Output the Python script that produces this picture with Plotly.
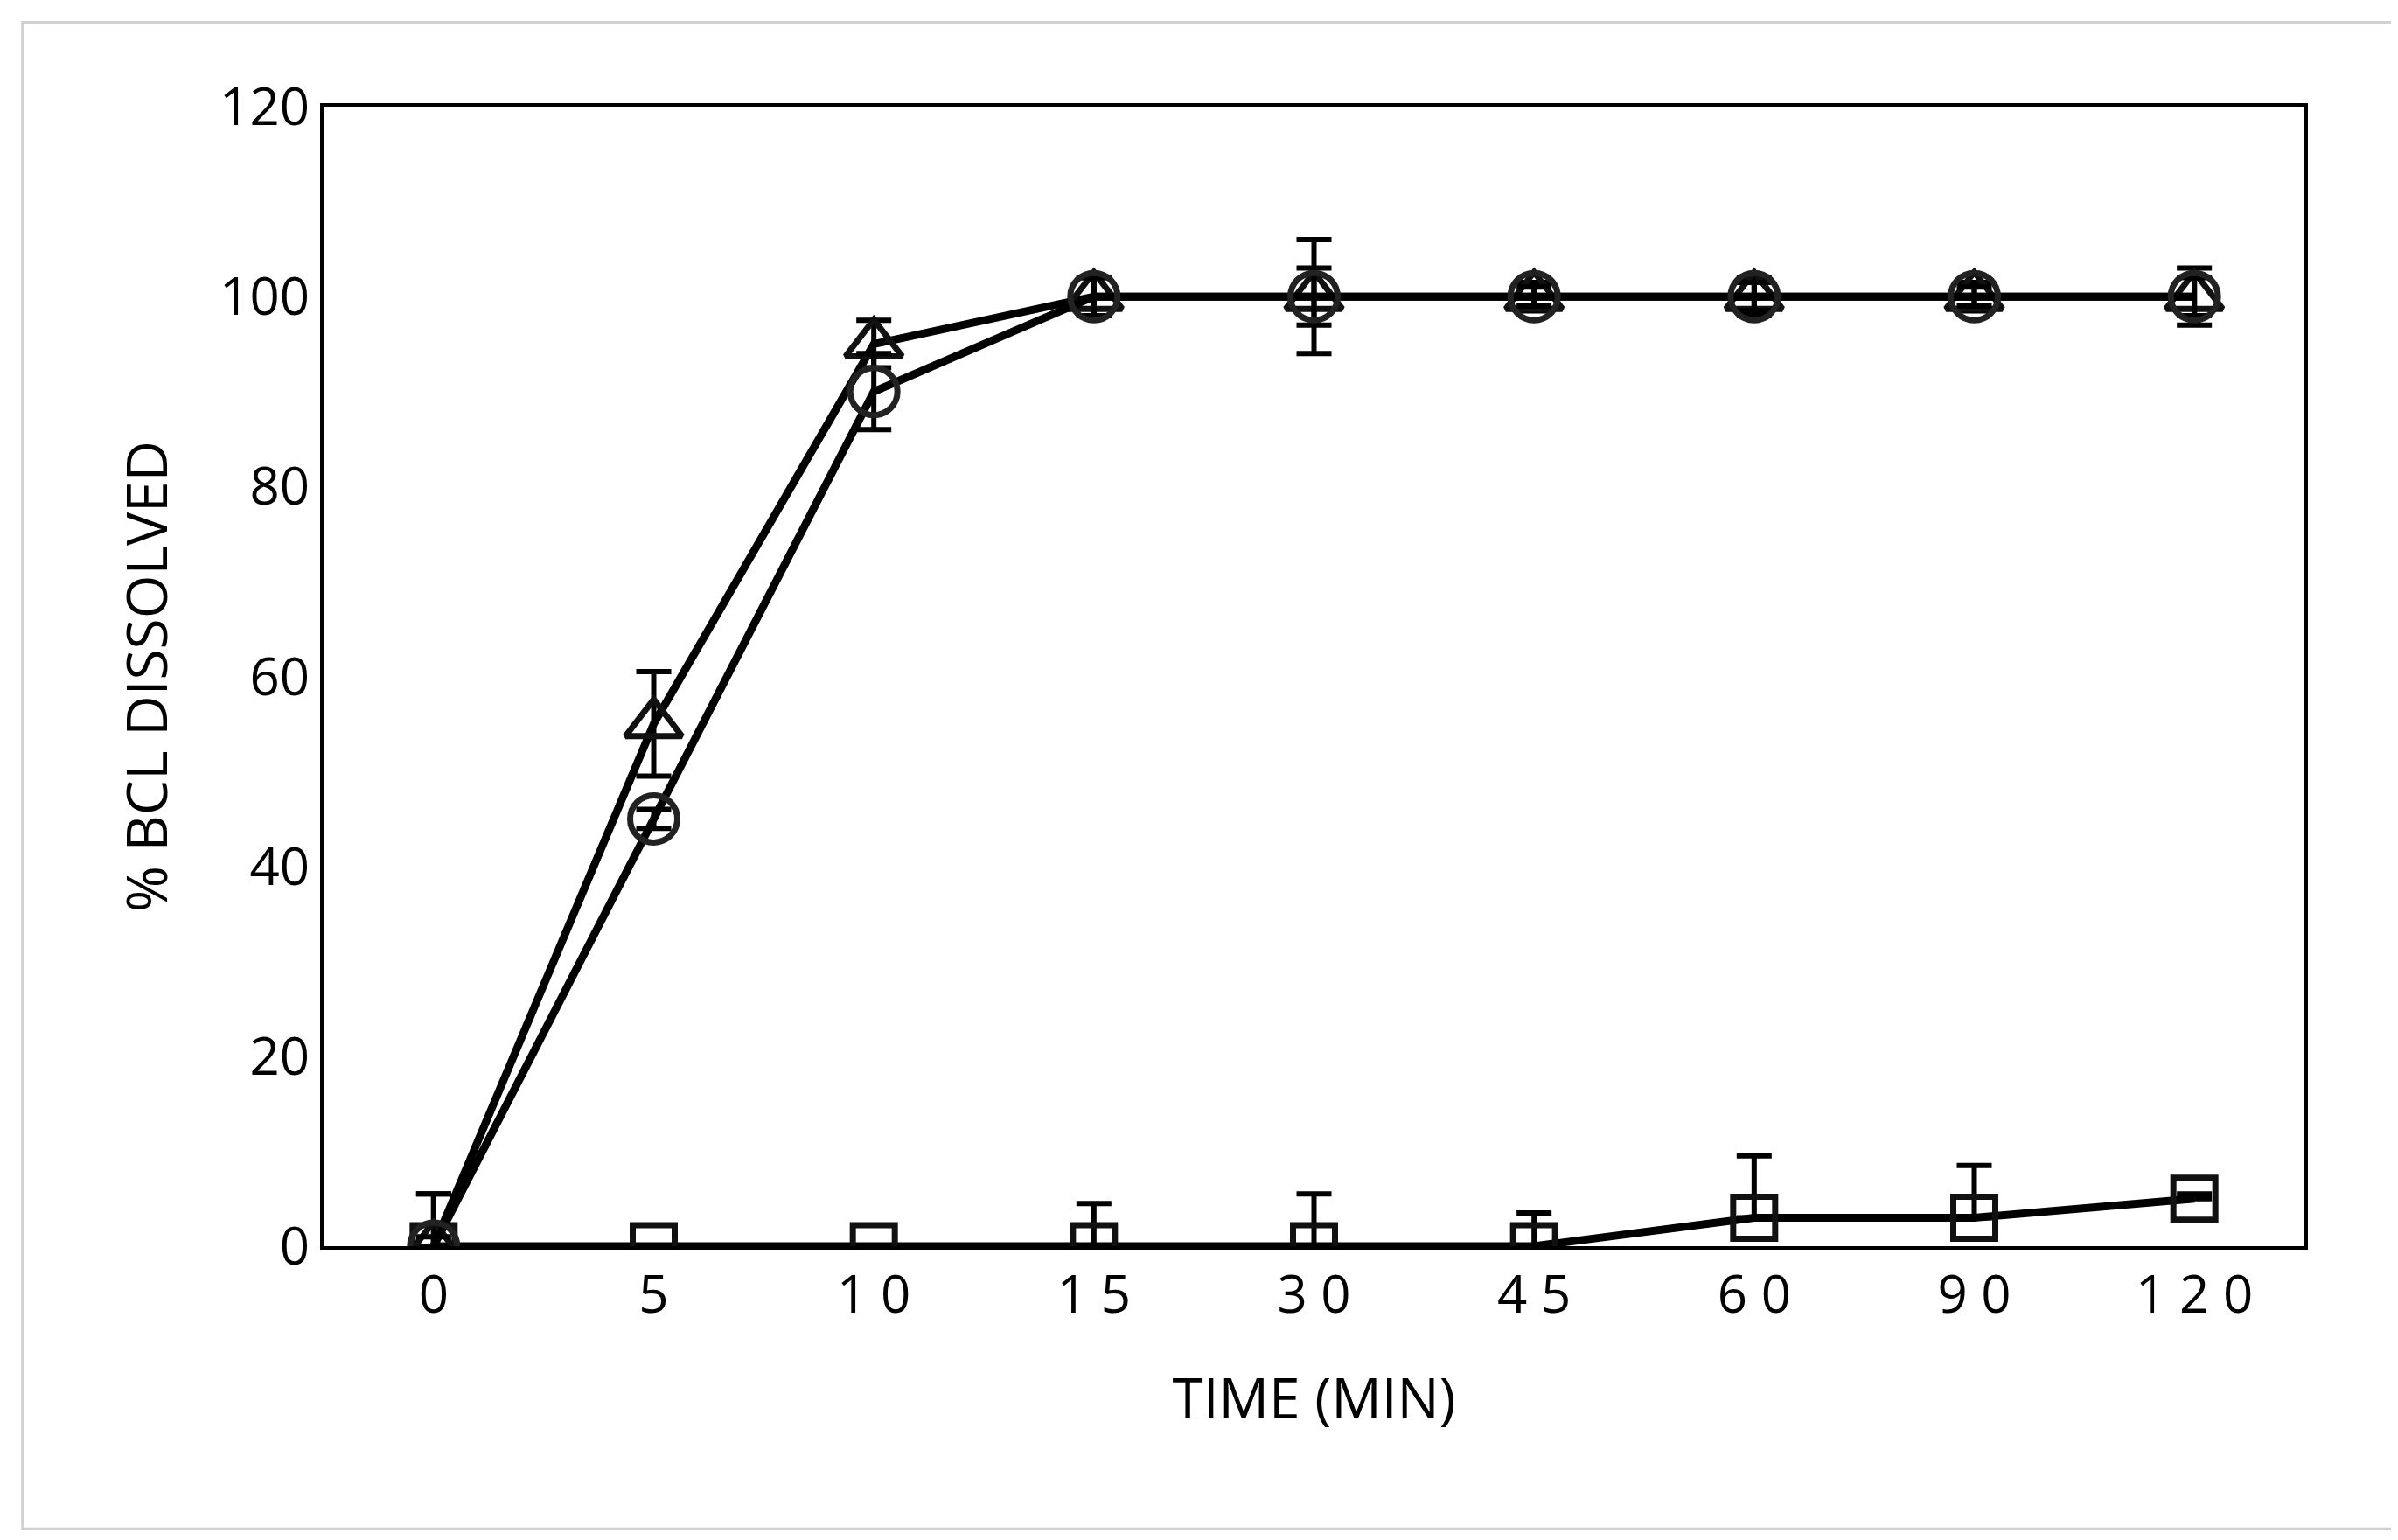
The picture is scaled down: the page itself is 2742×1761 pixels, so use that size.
import plotly.graph_objects as go

time_labels = ["0", "5", "10", "15", "30", "45", "60", "90", "120"]
tri_vals = [0, 55, 95, 100, 100, 100, 100, 100, 100]
tri_err = [5.5, 5.5, 2.5, 2, 6, 1.5, 2, 1.5, 3]
circ_vals = [0, 45, 90, 100, 100, 100, 100, 100, 100]
circ_err = [1, 1, 4, 2, 3, 1, 1.5, 1, 2]
sq_vals = [0, 0, 0, 0, 0, 0, 3, 3, 5]
sq_err_up = [5.5, 0, 0, 4.5, 5.5, 3.5, 6.5, 5.5, 0.5]

xs = list(range(len(time_labels)))
fig = go.Figure()
common = dict(x=xs, mode="lines+markers", line=dict(color="black", width=9))
fig.add_trace(go.Scatter(y=sq_vals, **common,
    marker=dict(symbol="square-open", size=48, color="#111", line=dict(width=7)),
    error_y=dict(type="data", array=sq_err_up, arrayminus=[0]*9, color="black", thickness=6, width=20)))
fig.add_trace(go.Scatter(y=tri_vals, **common,
    marker=dict(symbol="triangle-up-open", size=56, color="#111", line=dict(width=7)),
    error_y=dict(type="data", array=tri_err, color="black", thickness=6, width=20)))
fig.add_trace(go.Scatter(y=circ_vals, **common,
    marker=dict(symbol="circle-open", size=54, color="#222", line=dict(width=7)),
    error_y=dict(type="data", array=circ_err, color="black", thickness=6, width=20)))

fig.update_layout(
    width=2742, height=1761, showlegend=False,
    paper_bgcolor="white", plot_bgcolor="white",
    margin=dict(l=362, r=115, t=114, b=344),
    font=dict(family="Open Sans", size=60, color="black"),
    shapes=[dict(type="rect", xref="paper", yref="paper", x0=-0.152, x1=1.045, y0=-0.248, y1=1.074,
                 line=dict(color="#d0d0d0", width=3))],
)
fig.update_xaxes(tickmode="array", tickvals=xs, ticktext=[" ".join(t) for t in time_labels],
    range=[-0.5, 8.5], showline=True, linecolor="black", linewidth=4, mirror=True,
    showgrid=False, zeroline=False, ticks="", title=dict(text="TIME (MIN)", font=dict(size=64), standoff=60))
fig.update_yaxes(range=[0, 120], dtick=20, showline=True, linecolor="black", linewidth=4, mirror=True,
    showgrid=False, zeroline=False, ticks="", title=dict(text="% BCL DISSOLVED", font=dict(size=64), standoff=40))
fig.write_html("out.html")
